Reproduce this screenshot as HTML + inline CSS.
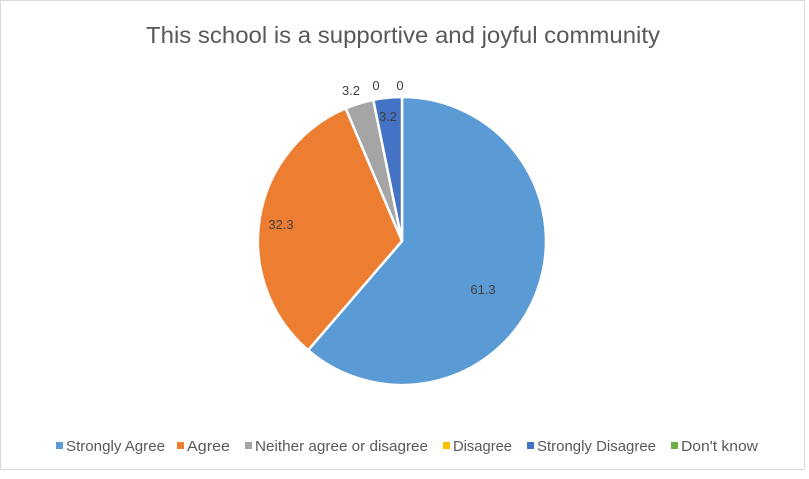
<!DOCTYPE html>
<html><head><meta charset="utf-8"><style>
html,body{margin:0;padding:0;background:#fff}
body{width:809px;height:474px;overflow:hidden;font-family:"Liberation Sans",Arial,sans-serif}
</style></head><body>
<svg width="809" height="474" xmlns="http://www.w3.org/2000/svg" font-family="Liberation Sans, Arial, sans-serif">
<rect x="0.5" y="0.5" width="804" height="469" fill="#fff" stroke="#d9d9d9"/>
<text x="146" y="43" font-size="23" fill="#595959" textLength="514" lengthAdjust="spacingAndGlyphs">This school is a supportive and joyful community</text>
<g stroke="#fff" stroke-width="2.5" stroke-linejoin="round">
<path d="M402,241 L402,97 A144,144 0 1,1 308.1,350.2 Z" fill="#5b9bd5"/>
<path d="M402,241 L308.1,350.2 A144,144 0 0,1 345.7,108.4 Z" fill="#ed7d31"/>
<path d="M402,241 L345.7,108.4 A144,144 0 0,1 373.3,99.9 Z" fill="#a5a5a5"/>
<path d="M402,241 L373.3,99.9 A144,144 0 0,1 402,97 Z" fill="#4472c4"/>
</g>
<g font-size="13" fill="#404040" text-anchor="middle">
<text x="483" y="294">61.3</text>
<text x="281" y="229">32.3</text>
<text x="351" y="95">3.2</text>
<text x="376" y="90">0</text>
<text x="400" y="90">0</text>
<text x="388" y="121">3.2</text>
</g>
<g font-size="15" fill="#595959">
<rect x="56" y="442" width="7" height="7" fill="#5b9bd5"/><text x="66" y="451" textLength="99" lengthAdjust="spacingAndGlyphs">Strongly Agree</text>
<rect x="177" y="442" width="7" height="7" fill="#ed7d31"/><text x="187" y="451" textLength="43" lengthAdjust="spacingAndGlyphs">Agree</text>
<rect x="245" y="442" width="7" height="7" fill="#a5a5a5"/><text x="255" y="451" textLength="173" lengthAdjust="spacingAndGlyphs">Neither agree or disagree</text>
<rect x="443" y="442" width="7" height="7" fill="#ffc000"/><text x="453" y="451" textLength="59" lengthAdjust="spacingAndGlyphs">Disagree</text>
<rect x="527" y="442" width="7" height="7" fill="#4472c4"/><text x="537" y="451" textLength="119" lengthAdjust="spacingAndGlyphs">Strongly Disagree</text>
<rect x="671" y="442" width="7" height="7" fill="#70ad47"/><text x="681" y="451" textLength="77" lengthAdjust="spacingAndGlyphs">Don't know</text>
</g>
</svg>
</body></html>
